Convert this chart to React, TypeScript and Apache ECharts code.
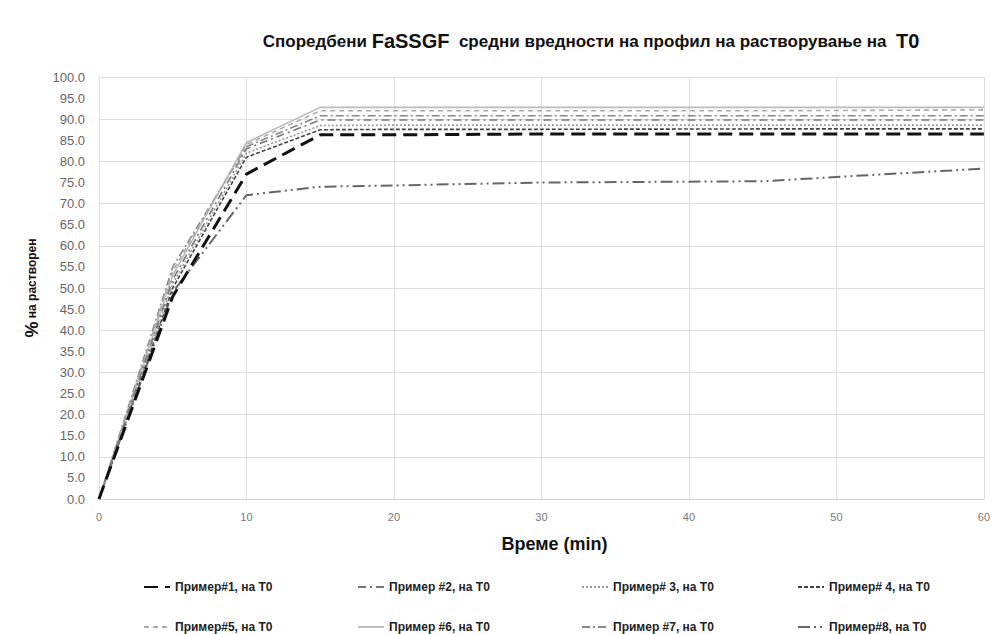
import React, { useEffect, useRef } from "react";
import * as echarts from "echarts";

const times = [0, 5, 10, 15, 20, 30, 45, 60];
const seriesNames = [
  "Пример#1, на T0",
  "Пример #2, на T0",
  "Пример# 3, на T0",
  "Пример# 4, на T0",
  "Пример#5, на T0",
  "Пример #6, на T0",
  "Пример #7, на T0",
  "Пример#8, на T0",
];
const s1 = [0, 48, 77, 86.3, 86.3, 86.5, 86.5, 86.5];
const s2 = [0, 52, 83, 89.8, 89.8, 89.8, 89.8, 89.8];
const s3 = [0, 51, 82, 88.5, 88.6, 88.6, 88.6, 88.6];
const s4 = [0, 50, 81, 87.5, 87.6, 87.6, 87.7, 87.7];
const s5 = [0, 54, 84, 92, 92, 92, 92, 92.2];
const s6 = [0, 53, 84.5, 92.8, 92.8, 92.8, 92.8, 92.8];
const s7 = [0, 55, 83.5, 90.8, 90.8, 90.8, 90.8, 90.8];
const s8 = [0, 49, 72, 74, 74.3, 75, 75.3, 78.3];
const allValues = [s1, s2, s3, s4, s5, s6, s7, s8];

const styles = [
  { color: "#111", width: 3, type: [14, 7] },
  { color: "#777", width: 1.6, type: [8, 4, 2, 4] },
  { color: "#999", width: 1.6, type: [2, 2] },
  { color: "#444", width: 1.6, type: [4, 2] },
  { color: "#aaa", width: 1.6, type: [5, 4] },
  { color: "#bbb", width: 1.6, type: "solid" },
  { color: "#888", width: 1.6, type: [8, 3, 2, 3] },
  { color: "#666", width: 2, type: [12, 4, 2, 4, 2, 4] },
];

const legendPos = [
  { left: 138, top: 576 },
  { left: 352, top: 576 },
  { left: 576, top: 576 },
  { left: 792, top: 576 },
  { left: 138, top: 616 },
  { left: 352, top: 616 },
  { left: 576, top: 616 },
  { left: 792, top: 616 },
];

export default function App() {
  const ref = useRef<HTMLDivElement>(null);
  useEffect(() => {
    if (!ref.current) return;
    const chart = echarts.init(ref.current, undefined, { renderer: "svg" });
    const series = allValues.map((vals, i) => ({
      name: seriesNames[i],
      type: "line",
      data: vals.map((v, j) => [times[j], v]),
      symbol: "none",
      lineStyle: { color: styles[i].color, width: styles[i].width, type: styles[i].type },
      itemStyle: { color: styles[i].color },
      z: 10 - i,
    }));
    chart.setOption({
      animation: false,
      backgroundColor: "#fff",
      title: {
        text: "{a|Споредбени }{b|FaSSGF}{a|  средни вредности на профил на растворување на  }{b|T0}",
        left: 586,
        textAlign: "center",
        top: 26,
        textStyle: {
          rich: {
            a: { fontSize: 17, fontWeight: "bold", color: "#111", fontFamily: "Liberation Sans, sans-serif" },
            b: { fontSize: 20, fontWeight: "bold", color: "#111", fontFamily: "Liberation Sans, sans-serif" },
          },
        },
      },
      legend: legendPos.map((p, i) => ({
        data: [seriesNames[i]],
        left: p.left,
        top: p.top,
        itemWidth: 26,
        itemHeight: 12,
        itemGap: 6,
        itemStyle: { color: "transparent", borderWidth: 0, opacity: 0 },
        textStyle: { fontSize: 12, fontWeight: "bold", color: "#222", fontFamily: "Liberation Sans, sans-serif" },
      })),
      grid: { left: 99, right: 5, top: 77, bottom: 135, containLabel: false },
      xAxis: {
        type: "value",
        min: 0,
        max: 60,
        interval: 10,
        name: "Време (min)",
        nameLocation: "middle",
        nameGap: 36,
        nameTextStyle: { fontSize: 18, fontWeight: "bold", color: "#111", fontFamily: "Liberation Sans, sans-serif", padding: [0, 0, 0, 26] },
        axisLine: { show: true, lineStyle: { color: "#d0d0d0" } },
        axisTick: { show: false },
        axisLabel: { color: "#777", fontSize: 11, margin: 12 },
        splitLine: { show: true, lineStyle: { color: "#dedede", width: 1 } },
      },
      yAxis: [
        {
          type: "value",
          min: 0,
          max: 100,
          interval: 5,
          name: "{p|%} {t|на растворен}",
          nameLocation: "middle",
          nameGap: 58,
          nameRotate: 90,
          nameTextStyle: {
            rich: {
              p: { fontSize: 18, fontWeight: "bold", color: "#111" },
              t: { fontSize: 12, fontWeight: "bold", color: "#111" },
            },
          },
          axisLine: { show: false },
          axisTick: { show: false },
          axisLabel: { color: "#666", fontSize: 13, margin: 14, formatter: (v: number) => v.toFixed(1) },
          splitLine: { show: false },
        },
        {
          type: "value",
          min: 0,
          max: 100,
          interval: 10,
          position: "left",
          axisLine: { show: false },
          axisTick: { show: false },
          axisLabel: { show: false },
          splitLine: { show: true, lineStyle: { color: "#dedede", width: 1 } },
        },
      ],
      series,
    });
    return () => chart.dispose();
  }, []);
  return <div ref={ref} style={{ width: 993, height: 634, position: "absolute", left: 0, top: 0 }} />;
}
